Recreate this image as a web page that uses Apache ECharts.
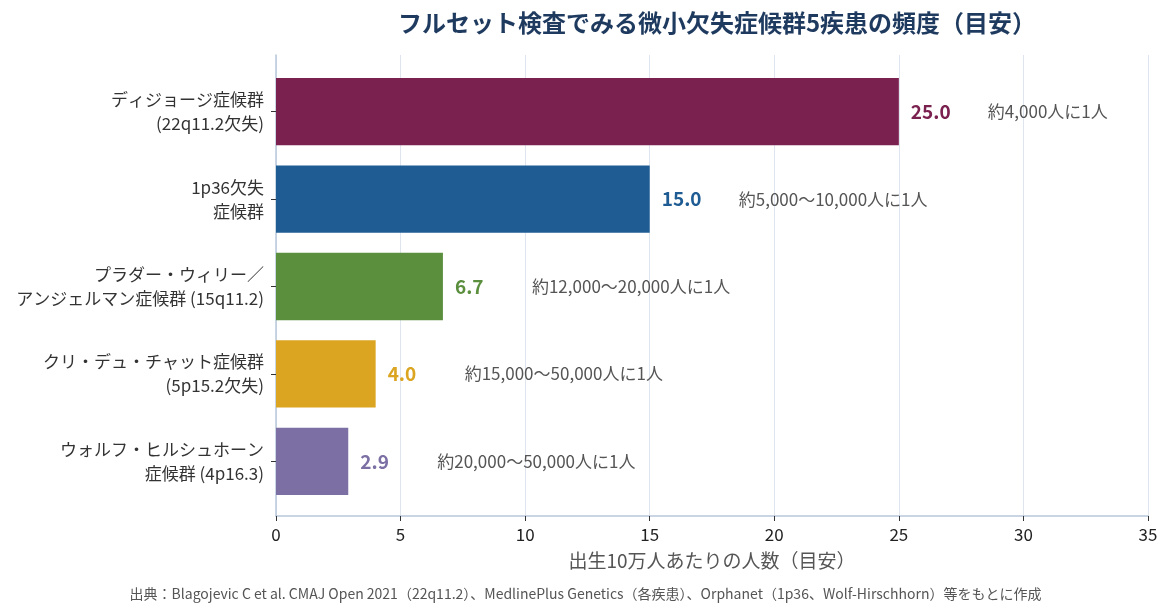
<!DOCTYPE html>
<html>
<head>
<meta charset="utf-8">
<script src="https://cdn.jsdelivr.net/npm/echarts@6/dist/echarts.min.js"></script>
<style>
html, body { margin: 0; padding: 0; background: #fff; }
#main { width: 1171px; height: 616px; }
</style>
</head>
<body>
<div id="main"></div>
<script>
// 疾患名（上から順）
var categories = [
    'ディジョージ症候群\n(22q11.2欠失)',
    '1p36欠失\n症候群',
    'プラダー・ウィリー／\nアンジェルマン症候群 (15q11.2)',
    'クリ・デュ・チャット症候群\n(5p15.2欠失)',
    'ウォルフ・ヒルシュホーン\n症候群 (4p16.3)'
];
// 出生10万人あたりの人数（目安）
var values = [25.0, 15.0, 6.7, 4.0, 2.9];
var ratios = [
    '約4,000人に1人',
    '約5,000〜10,000人に1人',
    '約12,000〜20,000人に1人',
    '約15,000〜50,000人に1人',
    '約20,000〜50,000人に1人'
];
var colors = ['#7b2150', '#1f5c94', '#5b8f3e', '#dba521', '#7b6fa3'];
var xTicks = [0, 5, 10, 15, 20, 25, 30, 35];

var font = '"Noto Sans CJK JP", "Noto Sans", sans-serif';

function init_chart() {
    var chart = echarts.init(document.getElementById('main'));
    var bar_data = [];
    for (var i = 0; i < values.length; i++) {
        bar_data.push({
            value: values[i],
            itemStyle: { color: colors[i] },
            label: {
                rich: {
                    v: { color: colors[i], fontSize: 19, fontWeight: 'bold', width: 77, fontFamily: font },
                    n: { color: '#555', fontSize: 17, fontFamily: font }
                }
            }
        });
    }
    var option = {
        backgroundColor: '#fff',
        textStyle: { fontFamily: font },
        title: {
            text: 'フルセット検査でみる微小欠失症候群5疾患の頻度（目安）',
            left: 712,
            textAlign: 'center',
            top: 6,
            textStyle: { fontSize: 24, fontWeight: 'bold', color: '#1f3a5f', fontFamily: font }
        },
        // grid 0: 枠・目盛り用、grid 1: 棒グラフ用（上下に余白あり）
        grid: [
            { left: 276, right: 23, top: 55, bottom: 100 },
            { left: 276, right: 23, top: 68, bottom: 111 }
        ],
        xAxis: [
            {
                type: 'value',
                gridIndex: 0,
                min: 0,
                max: 35,
                interval: 5,
                name: '出生10万人あたりの人数（目安）',
                nameLocation: 'middle',
                nameGap: 35,
                nameTextStyle: { fontSize: 19, color: '#555', fontFamily: font },
                axisLine: { show: true, lineStyle: { color: '#b9c8db', width: 1.5 } },
                axisTick: { show: true, length: 5, lineStyle: { color: '#333' } },
                axisLabel: {
                    fontSize: 17, color: '#222', margin: 10, fontFamily: font,
                    formatter: function (v) { return xTicks.indexOf(v) >= 0 ? String(v) : ''; }
                },
                splitLine: { show: true, lineStyle: { color: '#dfe5ef', width: 1 } }
            },
            {
                type: 'value',
                gridIndex: 1,
                min: 0,
                max: 35,
                show: false
            }
        ],
        yAxis: [
            {
                type: 'value',
                gridIndex: 0,
                min: 0,
                max: 1,
                axisLine: { show: true, lineStyle: { color: '#b9c8db', width: 1.5 } },
                axisTick: { show: false },
                axisLabel: { show: false },
                splitLine: { show: false }
            },
            {
                type: 'category',
                gridIndex: 1,
                inverse: true,
                data: categories,
                axisLine: { show: false },
                axisTick: { show: true, alignWithLabel: true, length: 5, lineStyle: { color: '#333' } },
                axisLabel: { fontSize: 17, color: '#333', lineHeight: 24, margin: 12, align: 'right', fontFamily: font }
            }
        ],
        series: [
            {
                type: 'bar',
                xAxisIndex: 1,
                yAxisIndex: 1,
                data: bar_data,
                barWidth: '77%',
                label: {
                    show: true,
                    position: 'right',
                    distance: 12,
                    formatter: function (p) {
                        return '{v|' + values[p.dataIndex].toFixed(1) + '}{n|' + ratios[p.dataIndex] + '}';
                    }
                }
            }
        ],
        graphic: [
            {
                type: 'text',
                left: 'center',
                top: 587,
                style: {
                    text: '出典：Blagojevic C et al. CMAJ Open 2021（22q11.2）、MedlinePlus Genetics（各疾患）、Orphanet（1p36、Wolf-Hirschhorn）等をもとに作成',
                    fontSize: 14,
                    fill: '#555',
                    fontFamily: font
                }
            }
        ]
    };
    chart.setOption(option);
}
init_chart();
</script>
</body>
</html>
